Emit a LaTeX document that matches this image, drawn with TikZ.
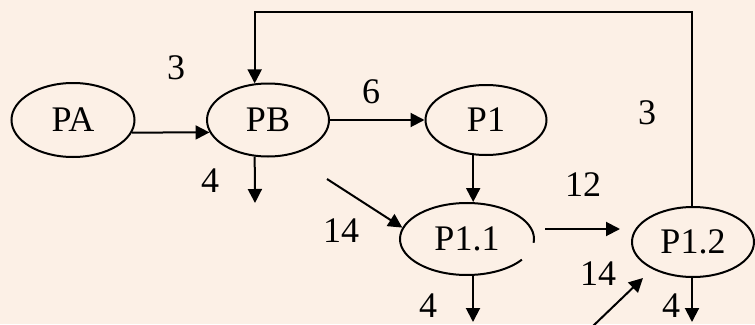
\documentclass[tikz,border=0pt]{standalone}
\usepackage{fontspec}
\setmainfont{Liberation Serif}
\usetikzlibrary{arrows.meta,shapes.geometric}
\definecolor{paper}{RGB}{252,240,230}
\begin{document}
\begin{tikzpicture}[x=1pt,y=-1pt,
  proc/.style={ellipse,draw,line width=2pt,inner sep=0pt,
    font=\fontsize{36}{42}\selectfont},
  lbl/.style={inner sep=0pt,font=\fontsize{36}{42}\selectfont},
  flow/.style={line width=2pt,-{Triangle[length=14pt,width=14pt]}}]
  % page with its margins
  \fill[paper] (0,0) rectangle (755,324);
  \useasboundingbox (0,0) rectangle (755,324);

  % processes
  \node[proc,minimum width=123pt,minimum height=74pt] (pa) at (73,120) {PA};
  \node[proc,minimum width=122pt,minimum height=73pt] (pb) at (268,120) {PB};
  \node[proc,minimum width=121pt,minimum height=70pt] (p1) at (486,120) {P1};
  \node[proc,draw=none,minimum width=134pt,minimum height=72pt] (p11) at (467,239) {P1.1};
  \node[proc,minimum width=122pt,minimum height=70pt] (p12) at (693,242) {P1.2};
  % outline of P1.1, left open at the lower right
  \draw[line width=2pt] (p11.center) ++(-6:67pt and 36pt)
    arc[start angle=-6,end angle=325,x radius=67pt,y radius=36pt];

  % free ends of the connectors
  \coordinate (tr) at (692,12);
  \coordinate (pbout) at (255,203);
  \coordinate (din) at (327,179);
  \coordinate (p11out) at (473,322);
  \coordinate (a1) at (545,229);
  \coordinate (a2) at (620,229);
  \coordinate (p12out) at (692,322);
  \coordinate (d2a) at (593,326);
  \coordinate (d2b) at (643,278);

  % connectors
  \draw[flow] (pa.-12) -- (pb.192);
  \draw[flow] (pb.east) -- (pb.east -| p1.west);
  \draw[flow] (p12.north -| tr) -- (tr) -| (pb.110);
  \draw[flow] (pb.250) -- (pbout);
  \draw[flow] (din) -- (p11.170);
  \draw[flow] (p1.250) -- (p1.250 |- p11.north);
  \draw[flow] (p11out |- p11.south) -- (p11out);
  \draw[flow] (a1) -- (a2);
  \draw[flow] (p12out |- p12.south) -- (p12out);
  \draw[flow] (d2a) -- (d2b);

  % flow quantities
  \node[lbl] (n3a) at (176,68) {3};
  \node[lbl] (n6) at (371,92) {6};
  \node[lbl] (n3b) at (647,113) {3};
  \node[lbl] (n4a) at (210,181) {4};
  \node[lbl] (n14a) at (341,231) {14};
  \node[lbl] (n12) at (583,185) {12};
  \node[lbl] (n14b) at (598,274) {14};
  \node[lbl] (n4b) at (428,306) {4};
  \node[lbl] (n4c) at (671,306) {4};
\end{tikzpicture}
\end{document}
